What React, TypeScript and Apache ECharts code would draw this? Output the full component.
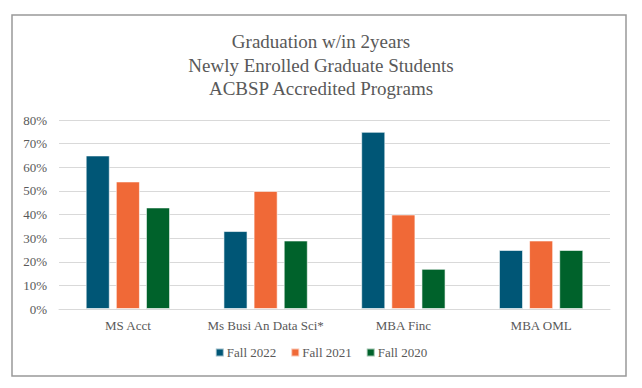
import React, { useEffect, useRef } from "react";
import * as echarts from "echarts";

const categories = ["MS Acct", "Ms Busi An Data Sci*", "MBA Finc", "MBA OML"];
const fall2022 = [65, 33, 75, 25];
const fall2021 = [54, 50, 40, 29];
const fall2020 = [43, 29, 17, 25];
const titleLines = ["Graduation w/in 2years", "Newly Enrolled Graduate Students", "ACBSP Accredited Programs"];

const FONT = "Times New Roman, Liberation Serif, DejaVu Serif, serif";
const TXT = "#595959";

export default function App() {
  const ref = useRef<HTMLDivElement>(null);
  useEffect(() => {
    if (!ref.current) return;
    const chart = echarts.init(ref.current, null, { renderer: "svg" });
    const barStyle = (color: string) => ({ color, borderColor: "rgba(255,255,255,0.6)", borderWidth: 1 });
    chart.setOption({
      animation: false,
      backgroundColor: "#fff",
      textStyle: { fontFamily: FONT },
      title: {
        text: titleLines.join("\n"),
        left: "center",
        top: 25,
        textStyle: { fontFamily: FONT, fontSize: 19, fontWeight: "normal", color: TXT, lineHeight: 23.5 },
      },
      graphic: [
        {
          type: "rect",
          shape: { x: 12, y: 15, width: 614, height: 361 },
          style: { fill: "none", stroke: "#999999", lineWidth: 1.5 },
          silent: true,
        },
      ],
      legend: {
        bottom: 24,
        left: "center",
        itemWidth: 8,
        itemHeight: 8,
        itemGap: 14,
        icon: "rect",
        textStyle: { fontFamily: FONT, fontSize: 13, color: TXT, padding: [0, 0, 0, -2] },
      },
      grid: { left: 59, right: 32, top: 120, bottom: 79 },
      xAxis: {
        type: "category",
        data: categories,
        axisLine: { lineStyle: { color: "#d9d9d9" } },
        axisTick: { show: false },
        axisLabel: { fontFamily: FONT, fontSize: 13, color: TXT, margin: 10, interval: 0 },
      },
      yAxis: {
        type: "value",
        min: 0,
        max: 80,
        interval: 10,
        axisLabel: { formatter: "{value}%", fontFamily: FONT, fontSize: 13, color: TXT, margin: 12 },
        splitLine: { lineStyle: { color: "#d9d9d9" } },
        axisLine: { show: false },
      },
      series: [
        { name: "Fall 2022", type: "bar", data: fall2022, itemStyle: barStyle("#005676"), barWidth: "17.5%", barGap: "25%" },
        { name: "Fall 2021", type: "bar", data: fall2021, itemStyle: barStyle("#F06937"), barWidth: "17.5%", barGap: "25%" },
        { name: "Fall 2020", type: "bar", data: fall2020, itemStyle: barStyle("#00622B"), barWidth: "17.5%", barGap: "25%" },
      ],
    });
    return () => chart.dispose();
  }, []);
  return <div ref={ref} style={{ position: "fixed", left: 0, top: 0, width: 642, height: 388 }} />;
}
